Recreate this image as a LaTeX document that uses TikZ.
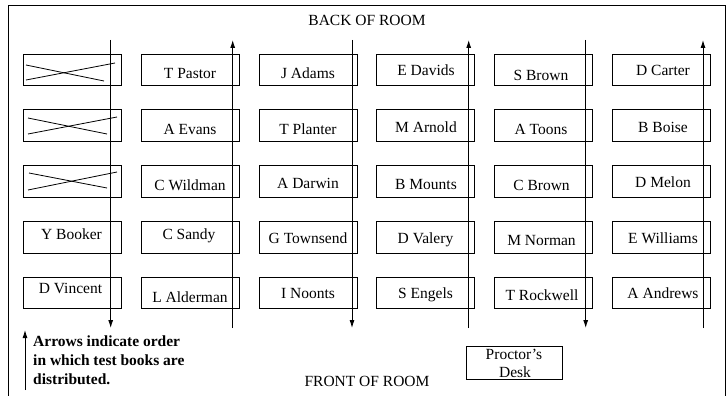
\documentclass[tikz,border=0pt]{standalone}
\usepackage{fontspec}
\setmainfont{LiberationSerif}[Extension=.ttf, UprightFont=*-Regular, BoldFont=*-Bold, ItalicFont=*-Italic, BoldItalicFont=*-BoldItalic]
\usetikzlibrary{arrows.meta}
\begin{document}
\begin{tikzpicture}[x=1pt,y=-1pt,
  desk/.style={draw, line width=0.8pt, rectangle, minimum width=98pt, minimum height=31.5pt, inner sep=0pt},
  pupil/.style={anchor=base, inner sep=0pt, font=\rmfamily\fontsize{15.5}{18}\selectfont},
  flow/.style={line width=0.9pt, -{Latex[length=8pt,width=5pt]}},
  cross/.style={line width=0.8pt},
]
\useasboundingbox (0,0) rectangle (728,396);
% frame
\coordinate (f1) at (8,396); \coordinate (f2) at (8,6);
\coordinate (f3) at (725.5,6); \coordinate (f4) at (725.5,396);
\draw[line width=1pt] (f1) -- (f2) -- (f3) -- (f4);
% desks
\foreach \c/\x in {1/72,2/190,3/308,4/425.5,5/543,6/661}{
  \foreach \r/\y in {1/70,2/125.5,3/181.5,4/237.5,5/293}{
    \node[desk] (b\r\c) at (\x,\y) {};
  }
}
% crossed-out desks
\draw[cross] (26,80) -- (115,63);
\draw[cross] (26,65) -- (104,81);
\draw[cross] (28,134) -- (117,117);
\draw[cross] (28,118) -- (107,134);
\draw[cross] (28,190) -- (117,172);
\draw[cross] (29,173) -- (107,188);
% names
\node[pupil] (n12) at (190,78) {T Pastor};
\node[pupil] (n13) at (308,78) {J Adams};
\node[pupil] (n14) at (426,76) {E Davids};
\node[pupil] (n15) at (541,81) {S Brown};
\node[pupil] (n16) at (663,76) {D Carter};
\node[pupil] (n22) at (190,134) {A Evans};
\node[pupil] (n23) at (308,134) {T Planter};
\node[pupil] (n24) at (426,132) {M Arnold};
\node[pupil] (n25) at (541,134) {A Toons};
\node[pupil] (n26) at (663,132) {B Boise};
\node[pupil] (n32) at (190,190) {C Wildman};
\node[pupil] (n33) at (308,188) {A Darwin};
\node[pupil] (n34) at (426,189) {B Mounts};
\node[pupil] (n35) at (541.5,190) {C Brown};
\node[pupil] (n36) at (663,187) {D Melon};
\node[pupil] (n41) at (71.5,239) {Y Booker};
\node[pupil] (n42) at (189,239) {C Sandy};
\node[pupil] (n43) at (308,243) {G Townsend};
\node[pupil] (n44) at (425.5,243) {D Valery};
\node[pupil] (n45) at (541.5,245) {M Norman};
\node[pupil] (n46) at (663,243) {E Williams};
\node[pupil] (n51) at (70.5,293) {D Vincent};
\node[pupil] (n52) at (190,302) {L Alderman};
\node[pupil] (n53) at (308,298) {I Noonts};
\node[pupil] (n54) at (425.5,298) {S Engels};
\node[pupil] (n55) at (542,300) {T Rockwell};
\node[pupil] (n56) at (663,298) {A Andrews};
% distribution arrows
\coordinate (d1a) at (110.7,40);  \coordinate (d1b) at (110.7,328);
\coordinate (d2a) at (232.7,328); \coordinate (d2b) at (232.7,40);
\coordinate (d3a) at (352,40);    \coordinate (d3b) at (352,328);
\coordinate (d4a) at (468.7,328); \coordinate (d4b) at (468.7,40);
\coordinate (d5a) at (585.7,40);  \coordinate (d5b) at (585.7,328);
\coordinate (d6a) at (703,328);   \coordinate (d6b) at (703,40);
\foreach \i in {1,...,6}{\draw[flow] (d\i a) -- (d\i b);}
% room labels
\node[pupil] (back) at (367,26) {BACK OF ROOM};
\node[pupil] (front) at (367,386.7) {FRONT OF ROOM};
% proctor's desk
\node[draw, line width=0.8pt, minimum width=96pt, minimum height=32.3pt, inner sep=0pt] (pd) at (514,362.85) {};
\node[pupil] (pd1) at (514,359) {Proctor’s};
\node[pupil] (pd2) at (515,377) {Desk};
% legend
\coordinate (la) at (25,390); \coordinate (lb) at (25,330);
\draw[flow] (la) -- (lb);
\node[anchor=north west, inner sep=0pt, align=left, font=\rmfamily\bfseries\fontsize{15.5}{19}\selectfont] (legend) at (33,335.5) {Arrows indicate order\\in which test books are\\distributed.};
\end{tikzpicture}
\end{document}
